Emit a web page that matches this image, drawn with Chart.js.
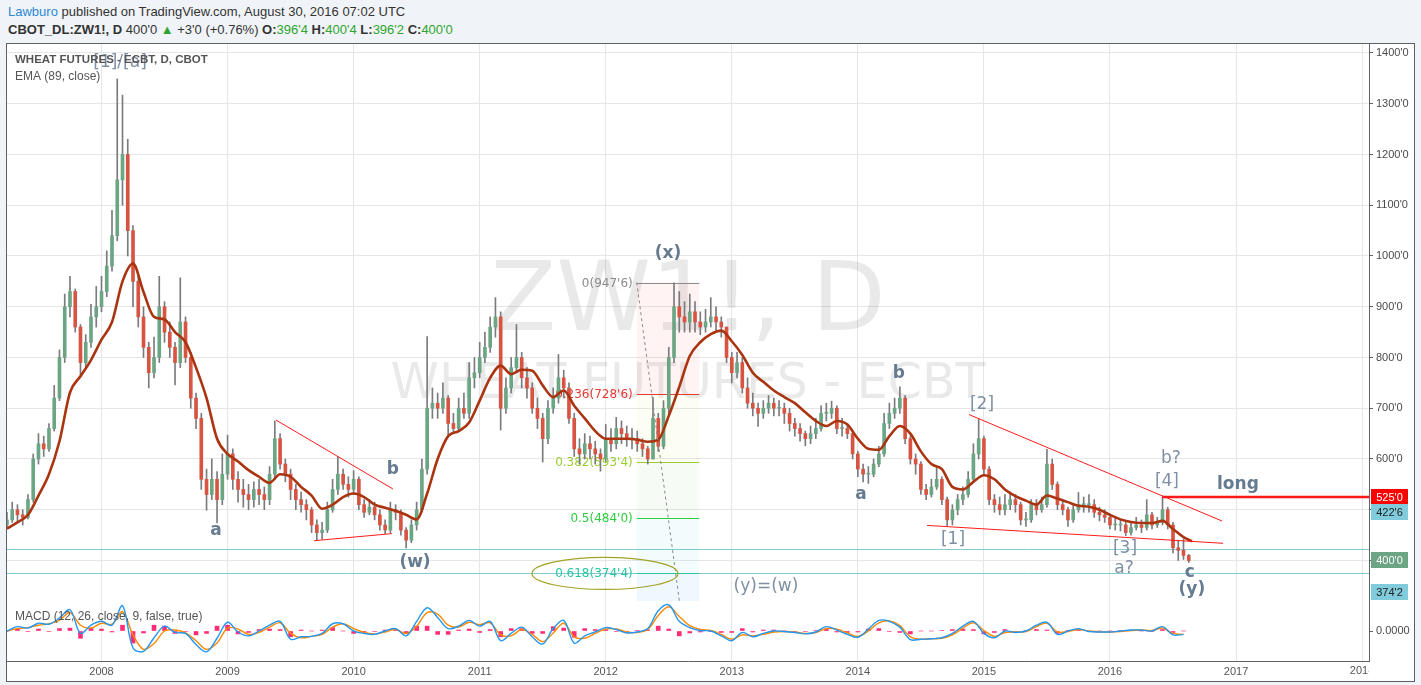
<!DOCTYPE html>
<html>
<head>
<meta charset="utf-8">
<title>ZW1! daily</title>
<script src="https://cdn.jsdelivr.net/npm/chart.js@4.4.1/dist/chart.umd.min.js"></script>
<style>
  body { margin:0; background:#f0f3f7; width:1421px; height:685px; overflow:hidden; position:relative;
         font-family:"Liberation Sans Narrow","Liberation Sans",Arial,sans-serif; color:#333; }
  .hdr { position:absolute; left:8px; font-size:13px; white-space:nowrap; line-height:16px; }
  #h1 { top:4px; }
  #h2 { top:22px; }
  .up { color:#2ea52e; }
  .user { color:#2c89d6; }
  #frame { position:absolute; left:6px; top:43px; width:1407px; height:637px; border:1px solid #5d6168; background:#fff; }
  canvas { position:absolute; left:0; }
</style>
</head>
<body>
<div class="hdr" id="h1"><span class="user">Lawburo</span> published on TradingView.com, August 30, 2016 07:02 UTC</div>
<div class="hdr" id="h2"><b>CBOT_DL:ZW1!, D</b> 400'0 <span class="up">&#9650;</span> +3'0 (+0.76%) <b>O:</b><span class="up">396'4</span> <b>H:</b><span class="up">400'4</span> <b>L:</b><span class="up">396'2</span> <b>C:</b><span class="up">400'0</span></div>
<div id="frame">
  <canvas id="price" width="1407" height="557" style="top:0"></canvas>
  <canvas id="macd" width="1407" height="80" style="top:557px"></canvas>
</div>
<script>
// half-month candles, Apr 2007 .. Aug 2016
const candleStart = 2007.25;
const candleStep = 1 / 24;
const firstOpen = 470;
const closes = [
  480,500,490,485,520,600,630,620,660,720,
  800,900,930,860,790,830,880,900,930,980,
  1040,1150,1200,1050,950,880,820,770,800,900,
  850,820,790,870,800,720,680,560,530,560,
  520,570,610,560,540,530,520,540,530,520,
  570,640,590,570,540,520,510,500,470,455,
  460,500,540,570,550,540,560,510,495,505,
  490,470,460,500,495,460,440,470,500,580,
  700,710,700,720,670,660,700,690,760,770,
  800,820,860,880,700,740,780,800,760,740,
  700,680,640,700,720,760,740,680,620,610,
  630,620,610,600,640,630,660,650,640,640,
  630,620,600,680,625,700,800,900,880,870,
  890,870,860,870,880,870,860,800,770,790,
  740,710,700,690,700,710,700,700,690,670,
  660,650,640,650,660,690,690,700,660,660,
  650,610,580,570,570,590,610,670,690,700,
  720,640,600,590,540,530,545,560,520,480,
  500,520,530,560,610,640,580,520,510,500,
  510,520,510,480,480,510,500,510,590,550,
  510,500,480,500,510,510,510,495,490,485,
  470,470,470,455,465,470,465,490,470,475,
  500,470,425,420,410,400
];
const highs = [
  495,515,510,500,530,610,650,645,670,745,
  815,925,960,935,865,845,905,940,960,1010,
  1090,1349,1317,1230,1060,960,900,830,840,960,
  910,870,830,957,880,810,730,690,580,600,
  575,610,647,620,575,560,550,555,560,545,
  585,675,650,600,580,550,535,520,505,480,
  475,515,560,605,580,565,577,565,520,520,
  515,500,480,515,510,500,465,480,515,600,
  841,740,730,750,725,690,720,730,790,800,
  830,850,880,918,890,760,800,865,810,780,
  750,720,690,715,740,806,775,750,690,640,
  650,645,635,620,668,660,682,675,665,660,
  655,640,625,721,690,715,820,947,930,910,
  925,910,890,895,918,900,880,860,810,810,
  800,760,730,710,715,725,720,715,710,700,
  680,670,655,665,680,705,710,714,705,680,
  670,655,615,590,585,600,625,690,710,720,
  742,725,645,610,595,550,560,584,565,525,
  510,530,545,575,630,679,645,585,530,525,
  530,535,530,515,495,520,520,525,619,600,
  555,520,505,510,534,525,530,520,505,500,
  492,485,480,475,475,485,480,520,495,485,
  524,505,475,440,442,412
];
const lows = [
  462,475,478,470,482,515,590,605,615,655,
  715,790,880,850,765,780,820,860,890,920,
  970,1030,1100,1000,900,860,800,740,760,790,
  830,800,746,780,790,700,660,540,499,520,
  474,510,560,540,515,505,500,505,510,500,
  510,560,580,555,520,500,495,480,455,439,
  442,455,495,530,540,525,530,500,485,490,
  480,460,453,455,480,450,425,435,460,495,
  570,680,680,690,647,650,655,680,680,740,
  760,790,810,840,657,690,730,770,740,720,
  690,660,594,630,690,710,720,670,605,590,
  600,600,590,576,595,615,620,630,625,620,
  615,605,590,600,615,620,690,790,850,850,
  850,850,845,850,860,850,840,790,750,760,
  730,700,685,664,680,690,685,685,670,655,
  645,635,626,630,640,655,675,680,650,645,
  640,600,565,555,552,565,585,605,660,680,
  690,630,590,570,530,520,525,540,510,467,
  470,490,510,525,555,600,570,510,495,490,
  490,500,495,470,467,475,490,495,505,540,
  500,490,467,475,495,495,495,485,478,475,
  462,460,458,449,450,460,455,460,462,465,
  470,462,415,400,402,396
];

// indicators read monthly
const indStart = 2007.25;
const indStep = 1 / 12;
const emaValues = [
  463,475,490,528,570,635,731,763,795,835,
  870,950,985,929,880,875,850,830,780,720,
  640,610,595,578,565,553,570,565,545,528,
  502,510,525,532,525,510,504,498,490,481,
  532,600,645,655,672,715,760,784,767,776,
  774,745,722,735,705,680,655,640,640,640,
  638,634,638,685,742,803,830,846,853,832,
  805,770,752,735,722,710,692,675,665,675,
  668,640,620,618,645,665,650,615,590,580,
  545,540,555,568,560,540,527,518,510,528,
  522,515,508,506,500,490,481,476,474,474,
  478,462,446
];
const emaLast = [2016.65, 438];
const macdLine = [
  0,9,6,16,14,27,44,-5,12,20,
  12,52,-35,-42,-14,10,-3,-5,-28,-43,
  -15,18,-2,-10,0,12,20,-17,-12,-11,
  -5,15,15,0,-5,-7,0,5,-10,20,
  48,28,5,10,22,10,20,-20,-5,8,
  -12,-27,5,22,-25,-10,-2,7,3,-4,
  -2,5,42,54,20,7,1,0,-10,-20,
  -3,-12,-5,0,-1,-3,-6,-2,9,2,
  -7,-13,4,22,20,8,-18,-17,-16,-14,
  -5,10,20,-5,-14,0,-3,0,12,18,
  -7,0,5,-1,-2,-2,0,2,2,0,
  9,-8,-7
];
const signalLine = [
  0,5,7,12,15,22,38,12,6,16,
  14,40,-8,-38,-26,0,2,-4,-20,-38,
  -25,6,4,-7,-3,8,17,-5,-14,-11,
  -7,8,15,5,-3,-6,-2,3,-5,10,
  38,35,12,8,18,13,17,-8,-10,3,
  -7,-22,-4,16,-12,-15,-5,4,4,-2,
  -3,3,32,50,30,11,3,1,-7,-17,
  -8,-10,-7,-2,-1,-2,-5,-3,5,4,
  -4,-11,0,17,21,11,-12,-17,-16,-15,
  -8,6,17,1,-11,-3,-2,-1,9,16,
  -2,-1,3,0,-2,-2,-1,1,2,1,
  6,-5,-7
];
const macdHist = [
  0,4,-1,4,-1,5,6,-15,6,4,
  -2,12,-25,-4,12,10,-5,-1,-8,-5,
  10,12,-6,-3,3,4,3,-12,2,0,
  2,7,0,-5,-2,-1,2,2,-5,10,
  10,-7,-7,2,4,-3,3,-12,5,5,
  -5,-5,9,6,-13,5,3,3,-1,-2,
  1,2,10,4,-10,-4,-2,-1,-3,-3,
  5,-2,2,2,0,-1,-1,1,4,-2,
  -3,-2,4,5,-1,-3,-6,0,0,1,
  3,4,3,-6,-3,3,-1,1,3,2,
  -5,1,2,-1,0,0,1,1,0,-1,
  3,-3,0
];

const yearTicks = [2008,2009,2010,2011,2012,2013,2014,2015,2016,2017,2018];
const priceTicks = [400,500,600,700,800,900,1000,1100,1200,1300,1400];

// visible ranges
const xMin = 2007.2504, xMax = 2018.0548;
const priceMin = 320.19, priceMax = 1417.73;

// drawings on the chart (time, price)
const fibStart = 2012.246, fibEnd = 2012.742, fibTextAt = 2012.214;
const fibLevels = [
  ["0(947'6)", 947.75, '#8a8a8a'],
  ["0.236(728'6)", 728.75, '#e53935'],
  ["0.382(593'4)", 593.5, '#9acd32'],
  ["0.5(484'0)", 484, '#2ecc40'],
  ["0.618(374'4)", 374.5, '#26c6a0']
];
const fibBands = [
  [947.75, 728.75, 'rgba(255,82,82,0.07)'],
  [728.75, 593.5, 'rgba(205,220,57,0.06)'],
  [593.5, 484, 'rgba(76,175,80,0.05)'],
  [484, 374.5, 'rgba(0,188,212,0.05)'],
  [374.5, 300, 'rgba(33,150,243,0.07)']
];
const fibDiagonal = [2012.246, 947.75, 2012.595, 300];
const hLines = [[422.6, '#86c9d8'], [374.4, '#86c9d8']];
const trendLines = [
  [2009.384, 676.8, 2010.312, 540.9, 1],
  [2009.686, 439.0, 2010.305, 453.0, 1],
  [2014.882, 687.5, 2016.889, 477.8, 1],
  [2014.549, 469.1, 2016.897, 433.9, 1],
  [2016.413, 525, 2018.1, 525, 2.5]
];
const ellipse = [2011.994, 374.5, 0.579, 31.5];
const waveLabels = [
  ['[1]/[a]', 2008.147, 1380.3, false],
  ['(x)', 2012.494, 1003.9, true],
  ['a', 2008.908, 458.1, true],
  ['b', 2010.312, 578.3, true],
  ['(w)', 2010.487, 395.1, true],
  ['a', 2014.025, 529.1, true],
  ['b', 2014.326, 767.5, true],
  ['[2]', 2014.985, 706.4, false],
  ['[1]', 2014.755, 440.4, false],
  ['[3]', 2016.119, 422.7, false],
  ['a?', 2016.111, 383.2, false],
  ['[4]', 2016.452, 554.7, false],
  ['b?', 2016.484, 600.0, false],
  ['c', 2016.634, 375.4, true],
  ['(y)', 2016.650, 341.9, true],
  ['long', 2017.015, 548.7, true],
  ['(y)=(w)', 2013.271, 347.8, false]
];
const axisTags = [
  ["525'0", 525, '#ff0000', '#ffffff'],
  ["422'6", 495.5, '#80cbdc', '#222222'],
  ["400'0", 400.9, '#6ba583', '#ffffff'],
  ["374'2", 337.9, '#80cbdc', '#222222']
];

// build points
const candles = closes.map((c, i) => ({
  t: candleStart + i * candleStep,
  o: i ? closes[i - 1] : firstOpen,
  h: highs[i], l: lows[i], c: c
}));
const bodies = candles.map(k => ({ x: k.t, y: [k.o, k.c] }));
const bodyColors = candles.map(k => k.c >= k.o ? '#6ba583' : '#d75442');
const wicks = candles.map(k => ({ x: k.t, y: [k.l, k.h] }));
const emaPts = emaValues.map((v, j) => ({ x: indStart + j * indStep, y: v }));
emaPts.push({ x: emaLast[0], y: emaLast[1] });
const macdPts = macdLine.map((v, j) => ({ x: indStart + j * indStep, y: v }));
const sigPts = signalLine.map((v, j) => ({ x: indStart + j * indStep, y: v }));
const histPts = macdHist.map((v, j) => ({ x: indStart + j * indStep, y: v }));

function txt(ctx, s, px, py, font, color, align) {
  ctx.font = font;
  ctx.fillStyle = color;
  ctx.textAlign = align || 'center';
  ctx.textBaseline = 'middle';
  ctx.fillText(s, px, py);
}

const drawings = {
  id: 'drawings',
  beforeDatasetsDraw(chart) {
    const { ctx, chartArea: a, scales: { x, y } } = chart;
    ctx.save();
    ctx.beginPath();
    ctx.rect(a.left, a.top, a.right - a.left, a.bottom - a.top);
    ctx.clip();
    // watermark
    ctx.fillStyle = 'rgba(0,0,0,0.085)';
    ctx.textAlign = 'center';
    ctx.textBaseline = 'alphabetic';
    ctx.font = '96px "DejaVu Sans"';
    ctx.fillText('ZW1!, D', 681, 286);
    ctx.font = '49px "DejaVu Sans"';
    ctx.fillText('WHEAT FUTURES - ECBT', 681, 354);
    // horizontal lines
    hLines.forEach(([p, col]) => {
      const yy = Math.round(y.getPixelForValue(p)) + 0.5;
      ctx.strokeStyle = col; ctx.lineWidth = 1;
      ctx.beginPath(); ctx.moveTo(a.left, yy); ctx.lineTo(a.right, yy); ctx.stroke();
    });
    // fib retracement
    const fx1 = x.getPixelForValue(fibStart), fx2 = x.getPixelForValue(fibEnd);
    fibBands.forEach(([p1, p2, col]) => {
      const y1 = y.getPixelForValue(p1), y2 = y.getPixelForValue(p2);
      ctx.fillStyle = col;
      ctx.fillRect(fx1, y1, fx2 - fx1, y2 - y1);
    });
    fibLevels.forEach(([s, p, col]) => {
      const yy = Math.round(y.getPixelForValue(p)) + 0.5;
      ctx.strokeStyle = col; ctx.lineWidth = 1;
      ctx.beginPath(); ctx.moveTo(fx1, yy); ctx.lineTo(fx2, yy); ctx.stroke();
      txt(ctx, s, x.getPixelForValue(fibTextAt), yy, '12px "DejaVu Sans"', col, 'right');
    });
    ctx.restore();
  },
  afterDatasetsDraw(chart) {
    const { ctx, chartArea: a, scales: { x, y } } = chart;
    ctx.save();
    ctx.beginPath();
    ctx.rect(a.left, a.top, a.right - a.left, a.bottom - a.top);
    ctx.clip();
    // fib trend (dashed)
    ctx.strokeStyle = '#8a8a8a'; ctx.lineWidth = 1; ctx.setLineDash([3, 3]);
    ctx.beginPath();
    ctx.moveTo(x.getPixelForValue(fibDiagonal[0]), y.getPixelForValue(fibDiagonal[1]));
    ctx.lineTo(x.getPixelForValue(fibDiagonal[2]), y.getPixelForValue(fibDiagonal[3]));
    ctx.stroke();
    ctx.setLineDash([]);
    // trend lines
    trendLines.forEach(([t1, p1, t2, p2, w]) => {
      ctx.strokeStyle = '#ff1a1a'; ctx.lineWidth = w;
      ctx.beginPath();
      ctx.moveTo(x.getPixelForValue(t1), y.getPixelForValue(p1));
      ctx.lineTo(x.getPixelForValue(t2), y.getPixelForValue(p2));
      ctx.stroke();
    });
    // ellipse around 0.618
    const [et, ep, ert, erp] = ellipse;
    const ecx = x.getPixelForValue(et), ecy = y.getPixelForValue(ep);
    const erx = x.getPixelForValue(et + ert) - ecx, ery = ecy - y.getPixelForValue(ep + erp);
    ctx.strokeStyle = '#a3a327'; ctx.lineWidth = 1.2;
    ctx.beginPath(); ctx.ellipse(ecx, ecy, erx, ery, 0, 0, Math.PI * 2); ctx.stroke();
    // wave labels
    waveLabels.forEach(([s, t, p, bold]) => {
      txt(ctx, s, x.getPixelForValue(t), y.getPixelForValue(p),
        bold ? 'bold 17px "DejaVu Sans"' : '17px "DejaVu Sans"',
        bold ? '#667b90' : '#7f90a3');
    });
    // legend
    txt(ctx, 'WHEAT FUTURES - ECBT, D, CBOT', a.left + 8, a.top + 16, 'bold 11.5px Arial', '#555555', 'left');
    txt(ctx, 'EMA (89, close)', a.left + 8, a.top + 33, '12px Arial', '#555555', 'left');
    ctx.restore();
  },
  afterDraw(chart) {
    const { ctx, chartArea: a, scales: { y } } = chart;
    axisTags.forEach(([s, p, bg, fg]) => {
      const yy = Math.round(y.getPixelForValue(p));
      ctx.fillStyle = bg;
      ctx.fillRect(a.right + 2, yy - 8, 37, 16);
      txt(ctx, s, a.right + 20.5, yy + 0.5, '11px Arial', fg, 'center');
    });
  }
};

new Chart(document.getElementById('price'), {
  type: 'bar',
  data: {
    datasets: [
      { type: 'line', label: 'EMA', data: emaPts, borderColor: '#a9340f', borderWidth: 2.6,
        pointRadius: 0, cubicInterpolationMode: 'monotone', order: 0 },
      { label: 'body', data: bodies, backgroundColor: bodyColors, barThickness: 3,
        minBarLength: 1, grouped: false, order: 1 },
      { label: 'wick', data: wicks, backgroundColor: '#7a7b7e', barThickness: 1,
        grouped: false, order: 2 }
    ]
  },
  options: {
    responsive: false, animation: false, devicePixelRatio: 1,
    layout: { padding: 0 },
    plugins: { legend: { display: false }, tooltip: { enabled: false } },
    scales: {
      x: {
        type: 'linear', min: xMin, max: xMax, offset: false,
        grid: { color: '#e6e6e6', offset: false, drawTicks: false },
        border: { display: true, color: '#5d6168' },
        ticks: { display: false },
        afterBuildTicks: s => { s.ticks = yearTicks.map(v => ({ value: v })); },
        afterFit: s => { s.height = 0; s.paddingLeft = 0; s.paddingRight = 0; }
      },
      y: {
        position: 'right', min: priceMin, max: priceMax,
        grid: { color: '#e6e6e6', tickColor: '#5d6168', tickLength: 4 },
        border: { color: '#5d6168' },
        ticks: { color: '#4a4a4a', font: { family: 'Arial', size: 11 }, padding: 3,
                 callback: v => v + "'0" },
        afterBuildTicks: s => { s.ticks = priceTicks.map(v => ({ value: v })); },
        afterFit: s => { s.width = 45; s.paddingTop = 0; s.paddingBottom = 0; }
      }
    }
  },
  plugins: [drawings]
});

const macdDecor = {
  id: 'macdDecor',
  afterDraw(chart) {
    const { ctx, chartArea: a, scales: { x } } = chart;
    txt(ctx, 'MACD (12, 26, close, 9, false, true)', a.left + 8, a.top + 16, '12px Arial', '#555555', 'left');
    // last year label is cut by the price axis
    ctx.save();
    ctx.beginPath(); ctx.rect(0, a.bottom, a.right, 30); ctx.clip();
    ctx.font = '11px Arial'; ctx.fillStyle = '#555555';
    ctx.textAlign = 'center'; ctx.textBaseline = 'middle';
    ctx.fillText('2018', x.getPixelForValue(2018), a.bottom + 10);
    ctx.restore();
  }
};

new Chart(document.getElementById('macd'), {
  type: 'bar',
  data: {
    datasets: [
      { type: 'line', data: macdPts, borderColor: '#2196f3', borderWidth: 1.4, pointRadius: 0, tension: 0.35, order: 0 },
      { type: 'line', data: sigPts, borderColor: '#ff8a00', borderWidth: 1.4, pointRadius: 0, tension: 0.35, order: 1 },
      { data: histPts, backgroundColor: '#ff2d78', barThickness: 4, grouped: false, order: 2 }
    ]
  },
  options: {
    responsive: false, animation: false, devicePixelRatio: 1,
    layout: { padding: 0 },
    plugins: { legend: { display: false }, tooltip: { enabled: false } },
    scales: {
      x: {
        type: 'linear', min: xMin, max: xMax, offset: false,
        grid: { color: '#e6e6e6', offset: false, drawTicks: false },
        border: { display: true, color: '#5d6168' },
        ticks: { color: '#555555', font: { family: 'Arial', size: 11 }, padding: 4,
                 maxRotation: 0, autoSkip: false,
                 callback: v => v === 2018 ? '' : String(v) },
        afterBuildTicks: s => { s.ticks = yearTicks.map(v => ({ value: v })); },
        afterFit: s => { s.height = 20; s.paddingLeft = 0; s.paddingRight = 0; }
      },
      y: {
        position: 'right', min: -62, max: 62,
        grid: { drawOnChartArea: false, tickColor: '#5d6168', tickLength: 4 },
        border: { color: '#5d6168' },
        ticks: { color: '#4a4a4a', font: { family: 'Arial', size: 11 }, padding: 3,
                 callback: () => '0.0000' },
        afterBuildTicks: s => { s.ticks = [{ value: 0 }]; },
        afterFit: s => { s.width = 45; s.paddingTop = 0; s.paddingBottom = 0; }
      }
    }
  },
  plugins: [macdDecor]
});
</script>
</body>
</html>
